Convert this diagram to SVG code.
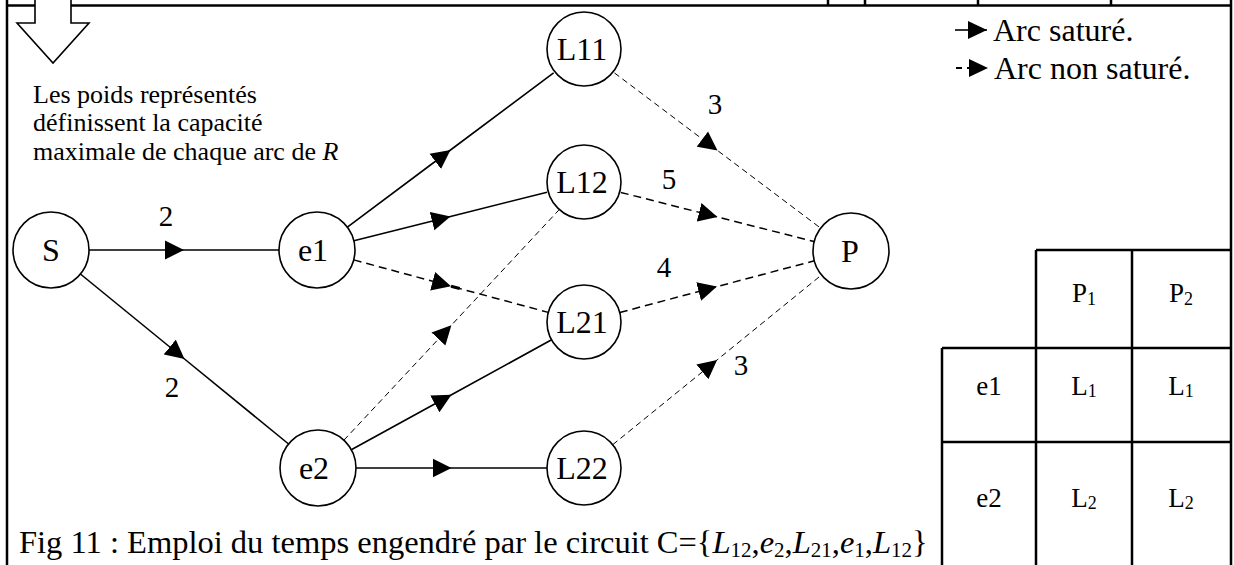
<svg xmlns="http://www.w3.org/2000/svg" width="1234" height="565" viewBox="0 0 1234 565" font-family="'Liberation Serif', 'Times New Roman', serif">
  <defs>
    <style>
      .frame { stroke: #000; stroke-width: 2.5; fill: none; }
      .node circle { fill: #fff; stroke: #000; stroke-width: 1.6; }
      text { font-family: "Liberation Serif", "Times New Roman", serif; fill: #000; }
      .node text { font-size: 32px; text-anchor: middle; }
      .lbl text { font-size: 29px; text-anchor: middle; }
      .tbl { font-size: 27px; text-anchor: middle; }
      .legend { font-size: 32px; }
      .note text { font-size: 26px; }
      .caption { font-size: 32.5px; }
      .sat { stroke: #000; stroke-width: 1.6; fill: none; marker-mid: url(#ah); }
      .ns { stroke: #000; stroke-width: 1.5; fill: none; stroke-dasharray: 8 5; marker-mid: url(#ah); }
      .ns-thin { stroke: #000; stroke-width: 1; fill: none; stroke-dasharray: 6 4; marker-mid: url(#ah); }
    </style>
    <marker id="ah" viewBox="0 0 20 20" markerUnits="userSpaceOnUse" markerWidth="20" markerHeight="20" refX="19" refY="10" orient="auto">
      <path d="M0,0.5 L19,10 L0,19.5 Z" fill="#000" stroke="none"/>
    </marker>
    <marker id="ahEnd" viewBox="0 0 20 20" markerUnits="userSpaceOnUse" markerWidth="20" markerHeight="20" refX="19" refY="10" orient="auto">
      <path d="M0,1 L19,10 L0,19 Z" fill="#000" stroke="none"/>
    </marker>
  </defs>

  <rect width="1234" height="565" fill="#fff"/>

  <!-- page frame and table stubs along the top -->
  <g id="frame" class="frame">
    <line x1="7" y1="0" x2="7" y2="565"/>
    <line x1="7" y1="5.5" x2="1231" y2="5.5"/>
    <line x1="1231" y1="0" x2="1231" y2="565"/>
    <line x1="828" y1="0" x2="828" y2="5"/>
    <line x1="865" y1="0" x2="865" y2="5"/>
    <line x1="978" y1="0" x2="978" y2="5"/>
    <line x1="1111" y1="0" x2="1111" y2="5"/>
  </g>

  <!-- hollow block arrow pointing down -->
  <path id="block-arrow" d="M35,-2 L35,23 L17,23 L53,63 L89,23 L71,23 L71,-2" fill="#fff" stroke="#000" stroke-width="1.6"/>

  <!-- note -->
  <g id="note" class="note">
    <text x="33" y="103">Les poids représentés</text>
    <text x="33" y="131">définissent la capacité</text>
    <text x="33" y="160">maximale de chaque arc de <tspan font-style="italic">R</tspan></text>
  </g>

  <!-- legend -->
  <g id="legend">
    <line x1="955" y1="30" x2="987" y2="30" stroke="#000" stroke-width="1.6" marker-end="url(#ahEnd)"/>
    <text class="legend" x="993" y="41">Arc saturé.</text>
    <line x1="956" y1="68" x2="988" y2="68" stroke="#000" stroke-width="2" stroke-dasharray="6 5" marker-end="url(#ahEnd)"/>
    <text class="legend" x="994" y="79">Arc non saturé.</text>
  </g>

  <!-- arcs of the network -->
  <g id="connectors">
    <polyline class="sat" points="89,250 184,250 279,250"/>
    <polyline class="sat" points="80.4,274 184.5,359 288.6,444"/>
    <polyline class="sat" points="347.4,227.2 450.5,150 553.6,72.8"/>
    <polyline class="sat" points="353.9,240.8 450.5,216.5 547.1,192.2"/>
    <polyline class="ns" points="353.7,259.9 451,286.2 548.3,312.4"/>
    <line x1="451" y1="286.2" x2="459.7" y2="288.5" stroke="#000" stroke-width="3"/>
    <polyline class="ns-thin" points="343.9,440.2 451.4,325.2 558.8,210.1"/>
    <polyline class="sat" points="351.3,449.7 451.5,394.8 551.6,339.8"/>
    <polyline class="sat" points="356,468 451.5,468 547,468"/>
    <polyline class="ns-thin" points="614.4,72.9 717.5,150.5 820.6,228.1"/>
    <polyline class="ns" points="620.8,192.4 717.5,217 814.2,241.6"/>
    <polyline class="ns" points="619.8,312.5 717,286.6 814.3,260.8"/>
    <polyline class="ns-thin" points="612.7,444.7 717.1,359.9 821.5,275"/>
  </g>

  <!-- capacities -->
  <g id="weights" class="lbl">
    <text x="166" y="226">2</text>
    <text x="172" y="397">2</text>
    <text x="715" y="114">3</text>
    <text x="669" y="189">5</text>
    <text x="664" y="277">4</text>
    <text x="741" y="375">3</text>
  </g>

  <g id="S" class="node"><circle cx="51" cy="250" r="38"/><text x="51" y="261">S</text></g>
  <g id="e1" class="node"><circle cx="317" cy="250" r="38"/><text x="313" y="261">e1</text></g>
  <g id="e2" class="node"><circle cx="318" cy="468" r="38"/><text x="314" y="479">e2</text></g>
  <g id="L11" class="node"><circle cx="584" cy="49" r="37"/><text x="582" y="60">L11</text></g>
  <g id="L12" class="node"><circle cx="584" cy="182" r="37"/><text x="582" y="193">L12</text></g>
  <g id="L21" class="node"><circle cx="584" cy="322" r="37"/><text x="582" y="333">L21</text></g>
  <g id="L22" class="node"><circle cx="584" cy="468" r="37"/><text x="582" y="479">L22</text></g>
  <g id="P" class="node"><circle cx="851" cy="251" r="38"/><text x="850" y="262">P</text></g>

  <!-- schedule table -->
  <g id="table">
    <g class="frame">
      <line x1="1036" y1="250" x2="1231" y2="250"/>
      <line x1="942" y1="348" x2="1231" y2="348"/>
      <line x1="942" y1="442" x2="1231" y2="442"/>
      <line x1="942" y1="348" x2="942" y2="565"/>
      <line x1="1036" y1="250" x2="1036" y2="565"/>
      <line x1="1132" y1="250" x2="1132" y2="565"/>
    </g>
    <text class="tbl" x="1084" y="302">P<tspan font-size="18" dy="3">1</tspan></text>
    <text class="tbl" x="1181" y="302">P<tspan font-size="18" dy="3">2</tspan></text>
    <text class="tbl" x="989" y="395">e1</text>
    <text class="tbl" x="1084" y="395">L<tspan font-size="18" dy="2">1</tspan></text>
    <text class="tbl" x="1181" y="395">L<tspan font-size="18" dy="2">1</tspan></text>
    <text class="tbl" x="989" y="507">e2</text>
    <text class="tbl" x="1084" y="507">L<tspan font-size="18" dy="2">2</tspan></text>
    <text class="tbl" x="1181" y="507">L<tspan font-size="18" dy="2">2</tspan></text>
  </g>

  <!-- caption -->
  <text id="caption" class="caption" x="19" y="553">Fig 11 : Emploi du temps engendré par le circuit C={<tspan font-style="italic">L</tspan><tspan font-size="21" dy="4">12</tspan><tspan dy="-4">,</tspan><tspan font-style="italic">e</tspan><tspan font-size="21" dy="4">2</tspan><tspan dy="-4">,</tspan><tspan font-style="italic">L</tspan><tspan font-size="21" dy="4">21</tspan><tspan dy="-4">,</tspan><tspan font-style="italic">e</tspan><tspan font-size="21" dy="4">1</tspan><tspan dy="-4">,</tspan><tspan font-style="italic">L</tspan><tspan font-size="21" dy="4">12</tspan><tspan dy="-4">}</tspan></text>
</svg>
